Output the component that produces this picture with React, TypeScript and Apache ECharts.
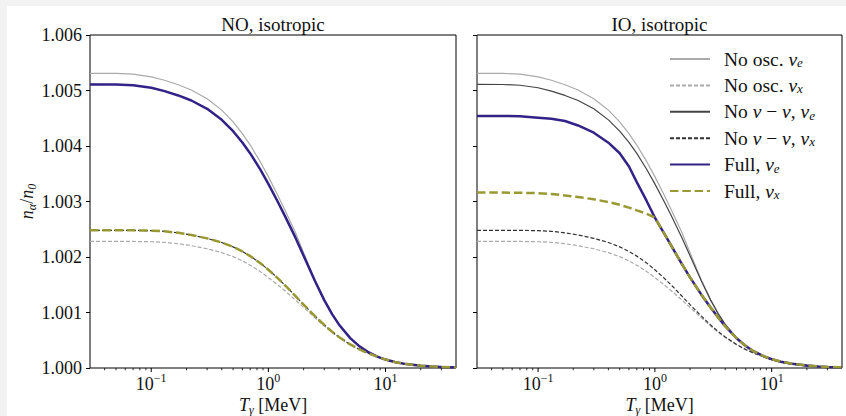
import React, { useEffect, useRef } from 'react';
import * as echarts from 'echarts';

const FONT = "'Liberation Serif', 'DejaVu Serif', serif";

// photon temperature [MeV]
const T = [0.03, 0.05, 0.07, 0.1, 0.13, 0.17, 0.22, 0.3, 0.4, 0.5, 0.6, 0.7, 0.85, 1, 1.2, 1.4, 1.7, 2, 2.5, 3, 3.5, 4, 5, 6, 7, 8.5, 10, 12, 15, 20, 25, 30, 40];

// No oscillations (same in both orderings)
const noOscE = [1.00531, 1.005308, 1.005294, 1.005246, 1.005184, 1.005103, 1.005009, 1.004853, 1.004646, 1.004434, 1.004223, 1.004017, 1.003722, 1.003448, 1.003117, 1.002825, 1.002445, 1.002077, 1.001586, 1.001234, 1.000978, 1.000789, 1.000541, 1.000391, 1.000296, 1.000206, 1.000152, 1.000107, 1.00007, 1.00004, 1.000026, 1.000018, 1.00001];
const noOscX = [1.00228, 1.00228, 1.00228, 1.002275, 1.002264, 1.00224, 1.002204, 1.002148, 1.002079, 1.002006, 1.00193, 1.001853, 1.001739, 1.001628, 1.001499, 1.001382, 1.001225, 1.001091, 1.000904, 1.000755, 1.00064, 1.000549, 1.000418, 1.00033, 1.000268, 1.000206, 1.000152, 1.000107, 1.00007, 1.00004, 1.000026, 1.000018, 1.00001];

// No nu-nu interactions (same in both orderings)
const noNuNuE = [1.00511, 1.005108, 1.005095, 1.005049, 1.004989, 1.004911, 1.00482, 1.00467, 1.004471, 1.004267, 1.004064, 1.003866, 1.003582, 1.003318, 1.003, 1.002719, 1.002353, 1.002023, 1.001568, 1.001223, 1.000971, 1.000785, 1.000539, 1.00039, 1.000295, 1.000206, 1.000152, 1.000107, 1.00007, 1.00004, 1.000026, 1.000018, 1.00001];
const noNuNuX = [1.00248, 1.00248, 1.00248, 1.002475, 1.002463, 1.002436, 1.002397, 1.002336, 1.002261, 1.002182, 1.0021, 1.002016, 1.001892, 1.001771, 1.00162, 1.001482, 1.001298, 1.001142, 1.000934, 1.000776, 1.000654, 1.00056, 1.000424, 1.000334, 1.000271, 1.000206, 1.000152, 1.000107, 1.00007, 1.00004, 1.000026, 1.000018, 1.00001];

// Full, normal ordering (coincides with no nu-nu)
const fullE_NO = noNuNuE;
const fullX_NO = noNuNuX;

// Full, inverted ordering
const fullE_IO = [1.00454, 1.00454, 1.004537, 1.00451, 1.00449, 1.00445, 1.00437, 1.00424, 1.00406, 1.00387, 1.00363, 1.00335, 1.00301, 1.00271, 1.002426, 1.002181, 1.001877, 1.001632, 1.001321, 1.001092, 1.000904, 1.000753, 1.000536, 1.000396, 1.000303, 1.000215, 1.00016, 1.000114, 1.000076, 1.000044, 1.000029, 1.00002, 1.000011];
const fullX_IO = [1.00316, 1.00316, 1.003158, 1.00315, 1.003135, 1.00311, 1.00308, 1.00304, 1.00299, 1.00294, 1.00289, 1.00284, 1.00278, 1.00271, 1.002426, 1.002181, 1.001877, 1.001632, 1.001321, 1.001092, 1.000904, 1.000753, 1.000536, 1.000396, 1.000303, 1.000215, 1.00016, 1.000114, 1.000076, 1.000044, 1.000029, 1.00002, 1.000011];

const majorTicks = [0.1, 1, 10];
const minorTicks = [0.04, 0.05, 0.06, 0.07, 0.08, 0.09, 0.2, 0.3, 0.4, 0.5, 0.6, 0.7, 0.8, 0.9, 2, 3, 4, 5, 6, 7, 8, 9, 20, 30];

const panelTitles = ['NO, isotropic', 'IO, isotropic'];
const xAxisTitle = '{i|T}{sub|γ} [MeV]';
const yAxisTitle = '{i|n}{sub|α}/{i|n}{sub|0}';
const seriesNames = ['No osc. νe', 'No osc. νx', 'No ν−ν, νe', 'No ν−ν, νx', 'Full, νe', 'Full, νx'];
const legendLabels: Record<string, string> = {
  'No osc. νe': 'No osc. {i|ν}{sub|e}',
  'No osc. νx': 'No osc. {i|ν}{sub|x}',
  'No ν−ν, νe': 'No {i|ν} − {i|ν}, {i|ν}{sub|e}',
  'No ν−ν, νx': 'No {i|ν} − {i|ν}, {i|ν}{sub|x}',
  'Full, νe': 'Full, {i|ν}{sub|e}',
  'Full, νx': 'Full, {i|ν}{sub|x}',
};

const richMath = {
  i: { fontFamily: FONT, fontSize: 18, fontStyle: 'italic', color: '#111' },
  sub: { fontFamily: FONT, fontSize: 12, fontStyle: 'italic', color: '#111', verticalAlign: 'bottom', lineHeight: 12 },
  sup: { fontFamily: FONT, fontSize: 12, color: '#111', verticalAlign: 'top', lineHeight: 12 },
};
const richZr = {
  i: { fontFamily: FONT, fontSize: 18, fontStyle: 'italic', fill: '#111' },
  sub: { fontFamily: FONT, fontSize: 12, fontStyle: 'italic', fill: '#111', verticalAlign: 'bottom', lineHeight: 12 },
};

const styles = [
  { color: '#aaaaaa', width: 1.2, dash: 'solid' as any },
  { color: '#aaaaaa', width: 1.2, dash: [4, 2] as any },
  { color: '#444444', width: 1.2, dash: 'solid' as any },
  { color: '#333333', width: 1.2, dash: [4, 2] as any },
  { color: '#332288', width: 2.5, dash: 'solid' as any },
  { color: '#999933', width: 2.5, dash: [8.5, 3.8] as any },
];

function lineSeries(name: string, values: number[], g: number, idx: number) {
  const s = styles[idx];
  return {
    type: 'line',
    name,
    xAxisIndex: g,
    yAxisIndex: g,
    data: T.map((t, i) => [t, values[i]]),
    symbol: 'none',
    showSymbol: false,
    smooth: false,
    lineStyle: { color: s.color, width: s.width, type: s.dash },
    itemStyle: { color: s.color },
    z: 2 + idx,
  };
}

function tickSeries(values: number[], g: number, len: number, w: number) {
  return {
    type: 'custom',
    xAxisIndex: g,
    yAxisIndex: g,
    silent: true,
    z: 20,
    data: values.map((v) => [v, 1.0]),
    renderItem: (_p: any, api: any) => {
      const p = api.coord([api.value(0), api.value(1)]);
      return {
        type: 'line',
        shape: { x1: p[0], y1: p[1], x2: p[0], y2: p[1] + len },
        style: { stroke: '#000', lineWidth: w },
      };
    },
  };
}

function fmtLog(v: number) {
  const l = Math.log10(v);
  const r = Math.round(l);
  if (Math.abs(l - r) > 1e-6) return '';
  return '10{sup|' + (r < 0 ? '−' : '') + Math.abs(r) + '}';
}

export default function App() {
  const ref = useRef<HTMLDivElement>(null);
  useEffect(() => {
    document.body.style.margin = '0';
    if (!ref.current) return;
    const chart = echarts.init(ref.current, undefined, { renderer: 'svg' });
    const grids = [
      { left: 83, top: 29, width: 366, height: 333 },
      { left: 470, top: 29, width: 365, height: 333 },
    ];
    const panels = [
      [noOscE, noOscX, noNuNuE, noNuNuX, fullE_NO, fullX_NO],
      [noOscE, noOscX, noNuNuE, noNuNuX, fullE_IO, fullX_IO],
    ];
    const series: any[] = [];
    panels.forEach((arrs, g) => {
      arrs.forEach((vals, idx) => series.push(lineSeries(seriesNames[idx], vals, g, idx)));
      series.push(tickSeries(majorTicks, g, 4, 1));
      series.push(tickSeries(minorTicks, g, 2.3, 0.8));
    });
    const axisTitleStyle = (text: string) => ({
      text,
      fontFamily: FONT,
      fontSize: 18,
      fill: '#111',
      align: 'center',
      verticalAlign: 'middle',
      lineHeight: 22,
      rich: richZr,
    });
    const graphic: any[] = grids.map((gr) => ({
      type: 'text',
      x: gr.left + gr.width / 2,
      y: gr.top + gr.height + 37,
      style: axisTitleStyle(xAxisTitle),
    }));
    graphic.push({
      type: 'text',
      x: 20,
      y: grids[0].top + grids[0].height / 2,
      rotation: Math.PI / 2,
      style: axisTitleStyle(yAxisTitle),
    });
    const option: any = {
      animation: false,
      backgroundColor: '#ffffff',
      textStyle: { fontFamily: FONT },
      title: panelTitles.map((t, g) => ({
        text: t,
        left: grids[g].left + grids[g].width / 2,
        top: 9,
        textAlign: 'center',
        padding: 0,
        textStyle: { fontFamily: FONT, fontSize: 19, fontWeight: 'normal', color: '#111' },
      })),
      graphic,
      grid: grids.map((gr) => ({
        ...gr,
        show: true,
        borderColor: '#000',
        borderWidth: 1,
        backgroundColor: 'transparent',
        containLabel: false,
        outerBoundsMode: 'none',
      })),
      xAxis: grids.map((_, g) => ({
        type: 'log',
        logBase: 10,
        gridIndex: g,
        min: 0.03,
        max: 40,
        axisLine: { show: false },
        axisTick: { show: false },
        minorTick: { show: false },
        splitLine: { show: false },
        axisLabel: {
          interval: 0,
          margin: 4,
          formatter: fmtLog,
          fontFamily: FONT,
          fontSize: 18,
          color: '#111',
          lineHeight: 24,
          rich: richMath,
        },
      })),
      yAxis: grids.map((_, g) => ({
        type: 'value',
        gridIndex: g,
        min: 1.0,
        max: 1.006,
        interval: 0.001,
        axisLine: { show: false },
        axisTick: { show: true, length: 4, lineStyle: { color: '#000', width: 1 } },
        splitLine: { show: false },
        axisLabel: {
          show: g === 0,
          margin: 8,
          formatter: (v: number) => v.toFixed(3),
          fontFamily: FONT,
          fontSize: 18,
          color: '#111',
        },
      })),
      legend: {
        data: seriesNames,
        orient: 'vertical',
        left: 662,
        top: 43,
        padding: 0,
        itemWidth: 40,
        itemHeight: 14,
        itemGap: 6.4,
        selectedMode: false,
        itemStyle: { opacity: 0, borderWidth: 0 },
        formatter: (name: string) => legendLabels[name] || name,
        textStyle: {
          fontFamily: FONT,
          fontSize: 19.5,
          color: '#111',
          lineHeight: 20,
          padding: [0, 0, 0, 9],
          rich: {
            i: { fontFamily: FONT, fontSize: 19.5, fontStyle: 'italic', color: '#111' },
            sub: { fontFamily: FONT, fontSize: 13, fontStyle: 'italic', color: '#111', verticalAlign: 'bottom', lineHeight: 12 },
          },
        },
      },
      series,
    };
    chart.setOption(option);
    return () => chart.dispose();
  }, []);
  return (
    <div style={{ position: 'relative', width: 846, height: 416, background: '#f2f2f2' }}>
      <div ref={ref} style={{ position: 'absolute', left: 7, top: 6, width: 839, height: 410, background: '#fff' }} />
    </div>
  );
}
